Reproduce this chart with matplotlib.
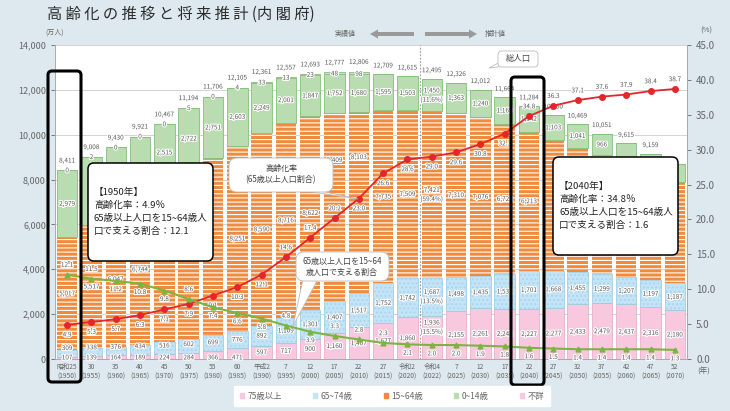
import numpy as np
import matplotlib.pyplot as plt
import matplotlib.patheffects as pe
from matplotlib.patches import FancyBboxPatch, Polygon, Patch, FancyArrow
from matplotlib.transforms import IdentityTransform

plt.rcParams['font.family'] = ['Noto Sans CJK JP', 'DejaVu Sans']
plt.rcParams['hatch.linewidth'] = 0.8

W, H = 730, 411

era = ['昭和25', '30', '35', '40', '45', '50', '55', '60', '平成2', '7', '12', '17', '22',
       '27', '令和2', '令和4', '7', '12', '17', '22', '27', '32', '37', '42', '47', '52']
years = [1950, 1955, 1960, 1965, 1970, 1975, 1980, 1985, 1990, 1995, 2000, 2005, 2010,
         2015, 2020, 2022, 2025, 2030, 2035, 2040, 2045, 2050, 2055, 2060, 2065, 2070]
total = [8411, 9008, 9430, 9921, 10467, 11194, 11706, 12105, 12361, 12557, 12693, 12777, 12806,
         12709, 12615, 12495, 12326, 12012, 11664, 11284, 10880, 10469, 10051, 9615, 9159, 8700]
age0_14 = [2979, 3012, 2843, 2553, 2515, 2722, 2751, 2603, 2249, 2001, 1847, 1752, 1680,
           1595, 1503, 1450, 1363, 1240, 1169, 1142, 1103, 1041, 966, 893, 831, 797]
age15_64 = [5017, 5517, 6047, 6744, 7212, 7581, 7883, 8251, 8590, 8716, 8622, 8409, 8103,
            7735, 7509, 7421, 7310, 7076, 6722, 6213, 5832, 5540, 5307, 5078, 4815, 4535]
age65_74 = [309, 338, 376, 434, 516, 602, 699, 776, 892, 1109, 1301, 1407, 1517,
            1752, 1742, 1687, 1498, 1435, 1531, 1701, 1668, 1455, 1299, 1207, 1197, 1187]
age75 = [107, 139, 164, 189, 224, 284, 366, 471, 597, 717, 900, 1160, 1407,
         1627, 1860, 1936, 2155, 2261, 2242, 2227, 2277, 2433, 2479, 2437, 2316, 2180]
unknown = [0, 2, 0, 0, 0, 5, 0, 4, 33, 13, 23, 48, 98]
rate = [4.9, 5.3, 5.7, 6.3, 7.1, 7.9, 9.1, 10.3, 12.1, 14.6, 17.4, 20.2, 23.0,
        26.6, 28.6, 29.0, 29.6, 30.8, 32.3, 34.8, 36.3, 37.1, 37.6, 37.9, 38.4, 38.7]
support = [12.1, 11.5, 11.2, 10.8, 9.8, 8.6, 7.4, 6.6, 5.8, 4.8, 3.9, 3.3, 2.8,
           2.3, 2.1, 2.0, 2.0, 1.9, 1.8, 1.6, 1.5, 1.4, 1.4, 1.4, 1.4, 1.3]
share2022 = ['11.6%', '59.4%', '13.5%', '15.5%']  # 0-14, 15-64, 65-74, 75+

green, green_e = '#b9ddb1', '#86bf7d'
orange = '#f08a3c'
blue, blue_e = '#c2e4f6', '#96c8e2'
pink, pink_e = '#f8c9de', '#e3a6c3'
red = '#e3262b'
lgreen = '#7cb441'
grey = '#666666'

# info boxes (pixels from top-left), labels under them are covered
box1950 = (88, 163, 213, 261)
box2040 = (553, 157, 678, 255)

fig = plt.figure(figsize=(W / 100, H / 100), dpi=100, facecolor='#dde9ef')
ax = fig.add_axes([55 / W, 1 - 359 / H, (687 - 55) / W, (359 - 45) / H])
ax.set_facecolor('white')

x = np.arange(len(years))
bw = 0.84
a75 = np.array(age75)
a6574 = np.array(age65_74)
a1564 = np.array(age15_64)
a014 = np.array(age0_14)
unk = np.zeros(len(years))
unk[:len(unknown)] = unknown

b1 = a75
b2 = b1 + a6574
b3 = b2 + a1564
b4 = b3 + a014

ax.bar(x, a75, bw, color=pink, edgecolor=pink_e, lw=0.5, zorder=2)
ax.bar(x, a6574, bw, bottom=b1, color=blue, edgecolor=blue_e, lw=0.5, zorder=2)
ax.bar(x, a6574, bw, bottom=b1, color='none', edgecolor='#a9d4ea', hatch='....', lw=0, zorder=2)
ax.bar(x, a1564, bw, bottom=b2, color=orange, edgecolor='white', hatch='----', lw=0, zorder=2)
ax.bar(x, a014, bw, bottom=b3, color=green, edgecolor=green_e, lw=0.6, zorder=2)
ax.bar(x, unk, bw, bottom=b4, color=pink, edgecolor=green_e, lw=0.6, zorder=2)

ax.set_xlim(-0.5, len(years) - 0.5)
ax.set_ylim(0, 14000)
ax.set_yticks(np.arange(0, 14001, 2000))
ax.set_yticklabels([f'{v:,}' for v in range(0, 14001, 2000)])
ax.grid(axis='y', color='#cccccc', lw=0.6, zorder=0)
ax.set_axisbelow(True)
ax.set_xticks(x)
ax.set_xticklabels([f'{e}\n({y})' for e, y in zip(era, years)], fontsize=4.8,
                   color=grey, linespacing=1.3)
ax.tick_params(axis='x', length=0, pad=3)
ax.tick_params(axis='y', labelsize=6.5, colors=grey, length=3, width=0.6)
ax.spines['top'].set_visible(False)
for s in ['left', 'bottom', 'right']:
    ax.spines[s].set_color('#aaaaaa')
    ax.spines[s].set_linewidth(0.7)
ax.axvline(14.5, color='#999999', ls=(0, (1.5, 1.5)), lw=0.8, zorder=3)

ax2 = ax.twinx()
ax2.set_ylim(0, 45)
ax2.set_yticks(np.arange(0, 46, 5))
ax2.set_yticklabels([f'{v:.1f}' for v in range(0, 46, 5)])
ax2.tick_params(axis='y', labelsize=7, colors=grey, length=3, width=0.6)
for s in ['top', 'left', 'bottom']:
    ax2.spines[s].set_visible(False)
ax2.spines['right'].set_color('#aaaaaa')
ax2.spines['right'].set_linewidth(0.7)

halo = [pe.withStroke(linewidth=1.6, foreground='white')]
lbl = dict(ha='center', va='center', fontsize=4.6, color='#555555', path_effects=halo, zorder=4)


def covered(a, xv, yv):
    px, py = a.transData.transform((xv, yv))
    py = H - py
    for x0, y0, x1, y1 in (box1950, box2040):
        if x0 - 8 < px < x1 + 8 and y0 - 4 < py < y1 + 4:
            return True
    return False


def put(a, xv, yv, txt):
    if not covered(a, xv, yv):
        a.text(xv, yv, txt, **lbl)


for i in x:
    mid1564 = b3[i] - a1564[i] * (0.25 if i in (11, 12) else 0.5)
    if b1[i] > 500:
        mid75 = b1[i] / 2 + (450 if i == 15 else 0)
    else:
        mid75 = 70
    mid6574 = max(b2[i] - a6574[i] / 2, b1[i] + 380)
    segs = [(a75[i], mid75), (a6574[i], mid6574),
            (a1564[i], mid1564), (a014[i], b4[i] - a014[i] / 2)]
    order = [3, 2, 1, 0]
    for k, (v, yc) in enumerate(segs):
        txt = f'{v:,}'
        if i == 15:
            txt += f'\n({share2022[order[k]]})'
        put(ax, i, yc, txt)
    if i < len(unknown):
        put(ax, i, b4[i], f'{unknown[i]}')
        put(ax, i, total[i] + 440, f'{total[i]:,}')
    else:
        put(ax, i, total[i] + 380, f'{total[i]:,}')

ax2.plot(x, rate, color=red, lw=1.3, marker='o', ms=4, zorder=5)
ax2.plot(x, support, color=lgreen, lw=1.5, marker='^', ms=3.5, zorder=5)

rate_up = {9, 10, 11, 19, 20, 21, 22, 23, 24, 25}
for i in x:
    dy = 1.4 if i in rate_up else -1.4
    put(ax2, i, rate[i] + dy, f'{rate[i]:.1f}')
sup_up = {0, 1, 5, 9, 11, 12, 13}
for i in x:
    dy = 1.4 if i in sup_up else -1.2
    put(ax2, i, support[i] + dy, f'{support[i]:.1f}')


def fx(px):
    return px / W


def fy(py):
    return 1 - py / H


def rbox(x0, y0, x1, y1, fc='white', ec='black', lw=1.0, r=6, z=4):
    p = FancyBboxPatch((x0, H - y1), x1 - x0, y1 - y0, boxstyle=f'round,pad=0,rounding_size={r}',
                       transform=IdentityTransform(), fc=fc, ec=ec, lw=lw, zorder=z)
    fig.add_artist(p)


def tail(pts, z=3.9):
    p = Polygon([(a, H - b) for a, b in pts], closed=True, transform=IdentityTransform(),
                fc='white', ec='#bbbbbb', lw=0.6, zorder=z)
    fig.add_artist(p)


# title and units
fig.text(fx(47), fy(14), '高 齢 化 の 推 移 と 将 来 推 計 (内 閣 府)', fontsize=11,
         color='#2b2b2b', va='center', ha='left')
fig.text(fx(45), fy(33), '(万人)', fontsize=5, color=grey, va='center')
fig.text(fx(706), fy(31), '(%)', fontsize=5.5, color=grey, va='center', ha='center')
fig.text(fx(704), fy(372), '(年)', fontsize=5.5, color=grey, va='center', ha='center')

# actual / projected arrows
fig.text(fx(345), fy(34), '実績値', fontsize=5, color=grey, va='center', ha='center')
fig.text(fx(495), fy(34), '推計値', fontsize=5, color=grey, va='center', ha='center')
fig.add_artist(FancyArrow(414, H - 34, -44, 0, width=4, head_width=9, head_length=8,
                          length_includes_head=True, transform=IdentityTransform(),
                          color='#9a9a9a', lw=0))
fig.add_artist(FancyArrow(425, H - 34, 52, 0, width=4, head_width=9, head_length=8,
                          length_includes_head=True, transform=IdentityTransform(),
                          color='#9a9a9a', lw=0))

# highlight frames
rbox(48, 71, 81, 382, fc='none', ec='black', lw=2.2, r=4, z=3)
rbox(511, 77, 544, 385, fc='none', ec='black', lw=2.2, r=4, z=3)

# info boxes
rbox(*box1950, lw=1.1, r=6)
lines1950 = ['【1950年】', '高齢化率：4.9％', '65歳以上人口を15~64歳人', '口で支える割合：12.1']
for k, t in enumerate(lines1950):
    fig.text(fx(94), fy(192 + 13 * k), t, fontsize=6.9, color='#222222', va='center', zorder=5)
rbox(*box2040, lw=1.1, r=6)
lines2040 = ['【2040年】', '高齢化率：34.8％', '65歳以上人口を15~64歳人', '口で支える割合：1.6']
for k, t in enumerate(lines2040):
    fig.text(fx(559), fy(186 + 13 * k), t, fontsize=6.9, color='#222222', va='center', zorder=5)

# speech bubbles
tail([(300, 190), (316, 190), (358, 199)])
rbox(229, 158, 333, 192, ec='#bbbbbb', lw=0.6, r=8)
fig.text(fx(281), fy(168), '高齢化率', fontsize=5.8, color='#444444', ha='center', va='center', zorder=5)
fig.text(fx(281), fy(180), '(65歳以上人口割合)', fontsize=5.8, color='#444444', ha='center', va='center', zorder=5)

tail([(303, 279), (318, 279), (293, 326)])
rbox(296, 252, 389, 281, ec='#bbbbbb', lw=0.6, r=8)
fig.text(fx(342), fy(261), '65歳以上人口を15~64', fontsize=5.8, color='#444444', ha='center', va='center', zorder=5)
fig.text(fx(342), fy(272), '歳人口で支える割合', fontsize=5.8, color='#444444', ha='center', va='center', zorder=5)

tail([(500, 62), (506, 66), (489, 68)])
rbox(498, 51, 538, 67, ec='#bbbbbb', lw=0.6, r=4)
fig.text(fx(518), fy(59), '総人口', fontsize=6, color='#444444', ha='center', va='center', zorder=5)

# legend
handles = [Patch(color=pink, label='75歳以上'), Patch(color=blue, label='65~74歳'),
           Patch(color=orange, label='15~64歳'), Patch(color=green, label='0~14歳'),
           Patch(color=pink, label='不詳')]
leg = fig.legend(handles=handles, loc='center', bbox_to_anchor=(fx(392), fy(396)), ncol=5,
                 fontsize=6, handlelength=0.45, handleheight=0.45, handletextpad=0.4,
                 columnspacing=3.8, borderpad=0.7, fancybox=False, framealpha=1,
                 edgecolor='white', labelcolor=grey)

fig.savefig('out.png', dpi=100, facecolor=fig.get_facecolor())
